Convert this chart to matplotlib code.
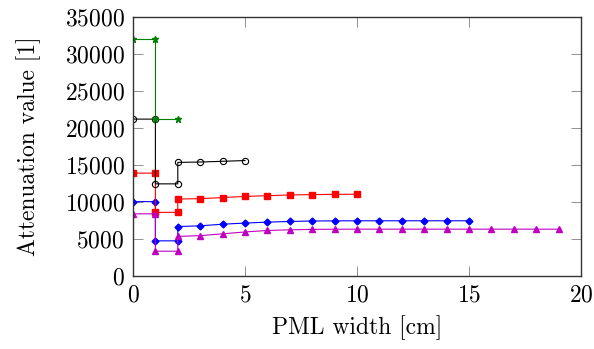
import matplotlib.pyplot as plt

# Data: PML width [cm] vs attenuation value (step-shaped series)
green_x = [0, 1, 1, 2]
green_y = [32000, 32000, 21200, 21200]

black_x = [0, 1, 1, 2, 2, 3, 4, 5]
black_y = [21200, 21200, 12450, 12450, 15350, 15400, 15500, 15600]

red_x = [0, 1, 1, 2, 2, 3, 4, 5, 6, 7, 8, 9, 10]
red_y = [13900, 13900, 8600, 8600, 10400, 10450, 10600, 10750, 10850, 10950, 11000, 11030, 11050]

blue_x = [0, 1, 1, 2, 2, 3, 4, 5, 6, 7, 8, 9, 10, 11, 12, 13, 14, 15]
blue_y = [10050, 10050, 4750, 4750, 6680, 6780, 7000, 7150, 7280, 7370, 7430, 7450, 7460, 7460,
          7460, 7460, 7460, 7460]

magenta_x = [0, 1, 1, 2, 2, 3, 4, 5, 6, 7, 8, 9, 10, 11, 12, 13, 14, 15, 16, 17, 18, 19]
magenta_y = [8400, 8400, 3350, 3350, 5350, 5450, 5700, 5950, 6150, 6240, 6300, 6320, 6330, 6330,
             6330, 6330, 6330, 6330, 6330, 6330, 6330, 6330]

plt.rcParams['font.family'] = ['cmr10', 'DejaVu Serif']
plt.rcParams['axes.formatter.use_mathtext'] = True

fig = plt.figure(figsize=(5.94, 3.49), dpi=100)
ax = fig.add_axes([0.2239, 0.2092, 0.978 - 0.2239, 0.9513 - 0.2092])

ms = 4.5
lw = 0.8
ax.plot(blue_x, blue_y, color='blue', marker='D', markersize=3.5, lw=lw)
ax.plot(red_x, red_y, color='red', marker='s', markersize=ms, lw=lw)
ax.plot(magenta_x, magenta_y, color=(0.75, 0, 0.75), marker='^', markersize=ms, lw=lw)
ax.plot(black_x, black_y, color='black', marker='o', markersize=ms, lw=lw,
        markerfacecolor='none', markeredgewidth=0.8)
ax.plot(green_x, green_y, color=(0, 0.5, 0), marker='*', markersize=ms, lw=lw)

ax.set_xlim(0, 20)
ax.set_ylim(0, 35000)
ax.set_xticks([0, 5, 10, 15, 20])
ax.set_yticks(range(0, 35001, 5000))
ax.tick_params(direction='in', top=True, right=True, length=7, width=0.5,
               color='0.4', labelsize=17, pad=6)
for s in ax.spines.values():
    s.set_linewidth(1.0)
    s.set_color('0.2')

ax.set_xlabel("PML width [cm]", fontsize=17, labelpad=6)
ax.set_ylabel("Attenuation value [1]", fontsize=17, labelpad=17)

fig.savefig("out.png", dpi=100)
